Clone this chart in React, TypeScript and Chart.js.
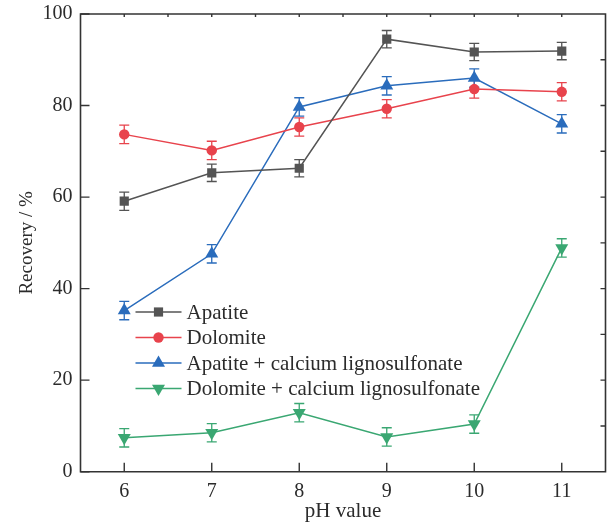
import React, { useEffect, useRef } from "react";
import { Chart, registerables } from "chart.js";

Chart.register(...registerables);

const phValues = [6, 7, 8, 9, 10, 11];
const apatite = [59.1, 65.3, 66.3, 94.5, 91.7, 91.9];
const apatiteErr = [2.0, 1.9, 1.9, 1.9, 1.9, 1.9];
const dolomite = [73.7, 70.2, 75.3, 79.3, 83.6, 83.0];
const dolomiteErr = [2.0, 2.0, 2.0, 2.0, 2.0, 2.0];
const apatiteCL = [35.2, 47.6, 79.7, 84.3, 86.0, 76.0];
const apatiteCLErr = [2.0, 2.0, 2.0, 2.0, 2.0, 2.0];
const dolomiteCL = [7.4, 8.5, 12.9, 7.6, 10.4, 48.9];
const dolomiteCLErr = [2.0, 2.0, 2.0, 2.0, 2.0, 2.0];
const seriesNames = [
  "Apatite",
  "Dolomite",
  "Apatite + calcium lignosulfonate",
  "Dolomite + calcium lignosulfonate",
];
const xTicks = [6, 7, 8, 9, 10, 11];
const yTicks = [0, 20, 40, 60, 80, 100];

const FONT = "'Liberation Serif', 'Times New Roman', serif";
const TEXT = "#2b2b2b";
const AXIS = "#333333";

const errorBarPlugin = {
  id: "errorBars",
  beforeDatasetsDraw(chart: any) {
    const ctx = chart.ctx;
    const ys = chart.scales.y;
    chart.data.datasets.forEach((ds: any, i: number) => {
      const meta = chart.getDatasetMeta(i);
      ctx.save();
      ctx.strokeStyle = ds.borderColor;
      ctx.lineWidth = 1.3;
      meta.data.forEach((pt: any, j: number) => {
        const v = ds.data[j].y;
        const e = ds.errors[j];
        const x = pt.x;
        const y1 = ys.getPixelForValue(v + e);
        const y2 = ys.getPixelForValue(v - e);
        ctx.beginPath();
        ctx.moveTo(x, y1);
        ctx.lineTo(x, y2);
        ctx.moveTo(x - 5, y1);
        ctx.lineTo(x + 5, y1);
        ctx.moveTo(x - 5, y2);
        ctx.lineTo(x + 5, y2);
        ctx.stroke();
      });
      ctx.restore();
    });
  },
};

const framePlugin = {
  id: "frame",
  afterDatasetsDraw(chart: any) {
    const ctx = chart.ctx;
    const { left, right, top, bottom } = chart.chartArea;
    const xs = chart.scales.x;
    const ys = chart.scales.y;
    ctx.save();
    ctx.strokeStyle = AXIS;
    ctx.lineWidth = 1.6;
    ctx.beginPath();
    ctx.rect(left, top, right - left, bottom - top);
    ctx.stroke();
    ctx.lineWidth = 1.4;
    ctx.beginPath();
    yTicks.forEach((v) => {
      const y = ys.getPixelForValue(v);
      ctx.moveTo(left, y);
      ctx.lineTo(left + 9, y);
    });
    for (let v = 10; v < 100; v += 10) {
      const y = ys.getPixelForValue(v);
      ctx.moveTo(right, y);
      ctx.lineTo(right - 5, y);
    }
    xTicks.forEach((v) => {
      const x = xs.getPixelForValue(v);
      ctx.moveTo(x, bottom);
      ctx.lineTo(x, bottom - 9);
    });
    for (let v = 6; v <= 11; v += 0.5) {
      const x = xs.getPixelForValue(v);
      ctx.moveTo(x, top);
      ctx.lineTo(x, top + 3);
    }
    ctx.stroke();
    ctx.restore();
  },
};

function drawMarker(ctx: CanvasRenderingContext2D, style: string, r: number, rot: number, x: number, y: number) {
  ctx.beginPath();
  if (style === "rect") {
    const s = Math.SQRT1_2 * r;
    ctx.rect(x - s, y - s, 2 * s, 2 * s);
  } else if (style === "circle") {
    ctx.arc(x, y, r, 0, Math.PI * 2);
  } else if (style === "triangle") {
    const rad = (rot * Math.PI) / 180;
    for (let k = 0; k < 3; k++) {
      const a = rad + (k * 2 * Math.PI) / 3;
      const px = x + Math.sin(a) * r;
      const py = y - Math.cos(a) * r;
      if (k === 0) ctx.moveTo(px, py);
      else ctx.lineTo(px, py);
    }
    ctx.closePath();
  }
  ctx.fill();
}

const legendPlugin = {
  id: "customLegend",
  afterDatasetsDraw(chart: any) {
    const ctx = chart.ctx;
    const { left, top } = chart.chartArea;
    const x0 = left + 55;
    const y0 = top + 298;
    ctx.save();
    chart.data.datasets.forEach((ds: any, i: number) => {
      const y = y0 + i * 25.5;
      ctx.strokeStyle = ds.borderColor;
      ctx.lineWidth = 1.5;
      ctx.beginPath();
      ctx.moveTo(x0, y);
      ctx.lineTo(x0 + 46, y);
      ctx.stroke();
      ctx.fillStyle = ds.backgroundColor;
      drawMarker(ctx, ds.pointStyle, ds.pointRadius, ds.pointRotation || 0, x0 + 23, y);
      ctx.fillStyle = TEXT;
      ctx.font = `21px ${FONT}`;
      ctx.textBaseline = "middle";
      ctx.textAlign = "left";
      ctx.fillText(ds.label, x0 + 51, y + 1);
    });
    ctx.restore();
  },
};

export default function App() {
  const canvasRef = useRef<HTMLCanvasElement | null>(null);

  useEffect(() => {
    if (!canvasRef.current) return;
    const mk = (vals: number[]) => phValues.map((x, i) => ({ x, y: vals[i] }));
    const chart = new Chart(canvasRef.current, {
      type: "line",
      data: {
        datasets: [
          {
            label: seriesNames[0],
            data: mk(apatite),
            errors: apatiteErr,
            borderColor: "#545454",
            backgroundColor: "#545454",
            pointStyle: "rect",
            pointRadius: 6.5,
            borderWidth: 1.5,
            pointBorderWidth: 0,
          } as any,
          {
            label: seriesNames[1],
            data: mk(dolomite),
            errors: dolomiteErr,
            borderColor: "#e8434c",
            backgroundColor: "#e8434c",
            pointStyle: "circle",
            pointRadius: 5.2,
            borderWidth: 1.5,
            pointBorderWidth: 0,
          } as any,
          {
            label: seriesNames[2],
            data: mk(apatiteCL),
            errors: apatiteCLErr,
            borderColor: "#2a6cbc",
            backgroundColor: "#2a6cbc",
            pointStyle: "triangle",
            pointRadius: 7.5,
            borderWidth: 1.5,
            pointBorderWidth: 0,
          } as any,
          {
            label: seriesNames[3],
            data: mk(dolomiteCL),
            errors: dolomiteCLErr,
            borderColor: "#3aa772",
            backgroundColor: "#3aa772",
            pointStyle: "triangle",
            pointRotation: 180,
            pointRadius: 7.5,
            borderWidth: 1.5,
            pointBorderWidth: 0,
          } as any,
        ],
      },
      options: {
        responsive: false,
        animation: false,
        layout: { autoPadding: false, padding: { top: 14, right: 2.5, left: 0, bottom: 0 } },
        plugins: {
          legend: { display: false },
          tooltip: { enabled: false },
        },
        scales: {
          x: {
            type: "linear",
            min: 5.5,
            max: 11.5,
            afterBuildTicks: (axis: any) => {
              axis.ticks = xTicks.map((v) => ({ value: v }));
            },
            afterFit: (axis: any) => {
              axis.height = 52.3;
              axis.paddingLeft = 0;
              axis.paddingRight = 0;
            },
            grid: { display: false, drawTicks: false },
            border: { display: false },
            ticks: {
              padding: 8,
              color: TEXT,
              font: { family: FONT, size: 20 },
              maxRotation: 0,
            },
            title: {
              display: true,
              text: "pH value",
              color: TEXT,
              font: { family: FONT, size: 21 },
              padding: { top: 0, bottom: 0 },
            },
          },
          y: {
            type: "linear",
            min: 0,
            max: 100,
            afterBuildTicks: (axis: any) => {
              axis.ticks = yTicks.map((v) => ({ value: v }));
            },
            afterFit: (axis: any) => {
              axis.width = 80.5;
              axis.paddingTop = 0;
              axis.paddingBottom = 0;
            },
            grid: { display: false, drawTicks: false },
            border: { display: false },
            ticks: {
              padding: 8,
              color: TEXT,
              font: { family: FONT, size: 20 },
            },
            title: {
              display: true,
              text: "Recovery / %",
              color: TEXT,
              font: { family: FONT, size: 19 },
              padding: { top: 16, bottom: 0 },
            },
          },
        },
      } as any,
      plugins: [errorBarPlugin, framePlugin, legendPlugin],
    });
    return () => chart.destroy();
  }, []);

  return (
    <div style={{ position: "absolute", left: 0, top: 0, width: 608, height: 524, background: "#fff" }}>
      <canvas ref={canvasRef} width={608} height={524} style={{ display: "block" }} />
    </div>
  );
}
